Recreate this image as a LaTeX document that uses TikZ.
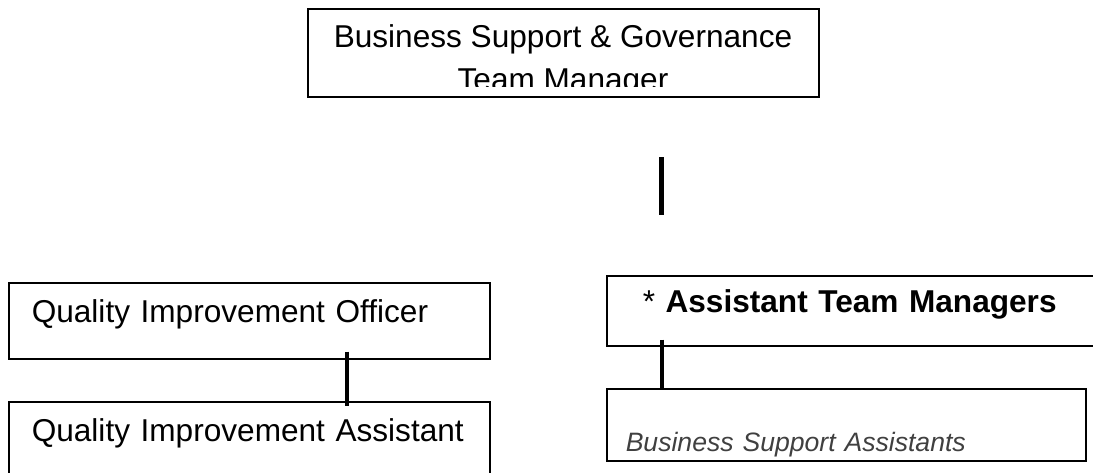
\documentclass[tikz,border=0pt]{standalone}
\usepackage{fontspec}
\setmainfont{Liberation Sans}
\usetikzlibrary{positioning}

\begin{document}
\begin{tikzpicture}[
        x=1pt, y=-1pt,
        box/.style={draw, rectangle, line width=1.5pt, anchor=north west, inner ysep=0pt, align=left},
        link/.style={line width=4.5pt},
        bigtext/.style={font=\fontsize{31.6}{43}\selectfont}
    ]
        \useasboundingbox (0,0) rectangle (1093,472);

        % Team manager at the top, second line cut by the box
        \node [box, minimum width=511pt, minimum height=88pt] (mgr) at (307,8) {};
        \begin{scope}
            \clip (mgr.north west) rectangle (818,86);
            \node [bigtext, align=center, anchor=base, inner sep=0pt] (mgrtext) at (563,90)
                {Business Support \& Governance\\Team Manager};
        \end{scope}

        % Left branch
        \node [box, bigtext, text width=435pt, inner xsep=23pt, text height=40pt, text depth=36pt] (qio) at (8,282)
            {Quality Improvement Officer};
        \node [box, bigtext, text width=435pt, inner xsep=23pt, text height=40pt, text depth=39pt] (qia) at (8,401)
            {Quality Improvement Assistant};

        % Right branch
        \node [box, bigtext, text width=420pt, inner xsep=36pt, text height=37pt, text depth=33pt] (atm) at (606,275)
            {* \textbf{Assistant Team Managers}};
        \node [box, font=\fontsize{26.6}{32}\selectfont\itshape, text=black!75, text width=441pt, inner xsep=19pt,
               text height=63pt, text depth=9pt] (bsa) at (606,388)
            {Business Support Assistants};

        % Links
        \coordinate (mgrlink) at (661.5,157);
        \coordinate (atmlink) at (661.5,215);
        \coordinate (qx) at (347,0);
        \coordinate (ax) at (662,0);
        \draw [link] (mgrlink) -- (atmlink);
        \draw [link] ([yshift=8pt]qio.south -| qx) -- ([yshift=-5pt]qia.north -| qx);
        \draw [link] ([yshift=7pt]atm.south -| ax) -- (bsa.north -| ax);
    \end{tikzpicture}
\end{document}
